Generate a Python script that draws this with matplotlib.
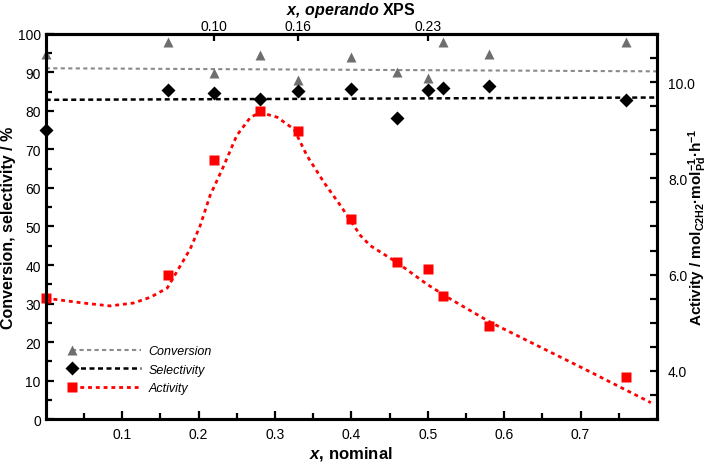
import numpy as np
import matplotlib
matplotlib.use("Agg")
import matplotlib.pyplot as plt
from matplotlib.lines import Line2D
from matplotlib.legend_handler import HandlerLine2D
from matplotlib.ticker import MultipleLocator, FixedLocator

plt.rcParams['font.family'] = ['Liberation Sans', 'DejaVu Sans']
plt.rcParams['mathtext.fontset'] = 'custom'
plt.rcParams['mathtext.rm'] = 'Liberation Sans:bold'
plt.rcParams['mathtext.it'] = 'Liberation Sans:italic'
plt.rcParams['mathtext.bf'] = 'Liberation Sans:bold'
plt.rcParams['mathtext.bfit'] = 'Liberation Sans:italic:bold'

# data
x_nominal = [0.0, 0.16, 0.22, 0.28, 0.33, 0.40, 0.46, 0.50, 0.52, 0.58, 0.76]
conversion = [94.8, 97.8, 89.8, 94.5, 88.0, 94.1, 90.0, 88.6, 98.0, 94.8, 97.8]
selectivity = [75.1, 85.5, 84.6, 83.1, 85.1, 85.7, 78.2, 85.5, 86.0, 86.6, 82.9]
activity = [5.51, 6.00, 8.39, 9.39, 8.98, 7.16, 6.27, 6.11, 5.55, 4.94, 3.88]

# fitted trend lines
fit_x = [0.0, 0.8]
conversion_fit = [91.1, 90.3]
selectivity_fit = [82.9, 83.5]
activity_fit_x = [0.0, 0.010, 0.049, 0.084, 0.115, 0.137, 0.159, 0.189, 0.202, 0.215,
                  0.233, 0.250, 0.268, 0.281, 0.303, 0.325, 0.342, 0.364, 0.386, 0.412,
                  0.425, 0.460, 0.499, 0.530, 0.582, 0.644, 0.705, 0.792]
activity_fit = [5.51, 5.49, 5.41, 5.35, 5.41, 5.53, 5.72, 6.53, 7.01, 7.64,
                8.26, 8.89, 9.27, 9.37, 9.27, 9.02, 8.47, 7.92, 7.43, 6.81,
                6.60, 6.25, 5.80, 5.49, 5.01, 4.52, 4.04, 3.34]

# top axis: operando XPS composition
top_pos = [0.22, 0.33, 0.50]
top_labels = ['0.10', '0.16', '0.23']

gray = '#6e6e6e'
red = '#ff0000'


class MarkerLeft(HandlerLine2D):
    # legend handle with the marker at the left end of the line
    def create_artists(self, legend, orig_handle, xdescent, ydescent, width, height, fontsize, trans):
        artists = super().create_artists(legend, orig_handle, xdescent, ydescent, width, height, fontsize, trans)
        line = artists[0]
        x0, x1 = line.get_xdata()[0], line.get_xdata()[-1]
        y0 = line.get_ydata()[0]
        line.set_data([x0, x1], [y0, y0])
        line.set_markevery([0])
        return artists


fig = plt.figure(figsize=(7.11, 4.64), dpi=100)
ax = fig.add_axes([0.0643, 0.0948, 0.8597, 0.8298])
ax2 = ax.twinx()

ax.plot(fit_x, conversion_fit, color='#8a8a8a', lw=1.5, dashes=(2, 1.6), zorder=2)
ax.plot(fit_x, selectivity_fit, color='black', lw=1.8, dashes=(2, 1.4), zorder=2)
ax.plot(x_nominal, conversion, '^', color=gray, ms=7.5, mec='none', zorder=3, clip_on=False)
ax.plot(x_nominal, selectivity, 'D', color='black', ms=7, mec='none', zorder=3, clip_on=False)

ax2.plot(activity_fit_x, activity_fit, color=red, lw=2, dashes=(1.4, 1.4))
ax2.plot(x_nominal, activity, 's', color=red, ms=7, mec='none', clip_on=False)

ax.set_xlim(0, 0.8)
ax.set_ylim(0, 100)
ax2.set_ylim(3, 11)

ax.xaxis.set_major_locator(FixedLocator([0.1, 0.2, 0.3, 0.4, 0.5, 0.6, 0.7]))
ax.xaxis.set_minor_locator(FixedLocator([0.05, 0.15, 0.25, 0.35, 0.45, 0.55, 0.65, 0.75]))
ax.yaxis.set_major_locator(MultipleLocator(10))
ax.yaxis.set_minor_locator(MultipleLocator(5))
ax2.yaxis.set_major_locator(FixedLocator([4, 6, 8, 10]))
ax2.yaxis.set_minor_locator(MultipleLocator(0.5))
ax2.set_yticklabels(['4.0', '6.0', '8.0', '10.0'])

ax.tick_params(which='both', direction='in', width=1.6, labelsize=10, top=False)
ax.tick_params(which='major', length=5.5)
ax.tick_params(which='minor', length=4.5)
ax.tick_params(axis='x', pad=6)
ax2.tick_params(which='both', direction='in', width=1.6, labelsize=10, length=5)
ax2.tick_params(axis='y', pad=8)

for a in (ax, ax2):
    for s in a.spines.values():
        s.set_linewidth(2.2)

top = ax.secondary_xaxis('top')
top.set_xticks(top_pos)
top.set_xticklabels(top_labels)
top.tick_params(direction='in', width=1.6, length=5, labelsize=10, pad=1)
top.spines['top'].set_linewidth(2.2)
ax.text(0.5, 1.052, r'$\mathbfit{x,\,operando}$ XPS', transform=ax.transAxes,
        ha='center', va='baseline', fontsize=11.5, fontweight='bold')

ax.set_xlabel(r'$\mathbfit{x}$, nominal', fontsize=12, fontweight='bold', labelpad=2)
ax.set_ylabel('Conversion, selectivity / %', fontsize=11.5, fontweight='bold')
ax.yaxis.set_label_coords(-0.048, 0.5)
ax2.set_ylabel(r'Activity / mol$_{\mathbf{C2H2}}$·mol$_{\mathbf{Pd}}^{\mathbf{-1}}$·h$^{\mathbf{-1}}$',
               fontsize=11, fontweight='bold')
ax2.yaxis.set_label_coords(1.048, 0.5)

handles = [
    Line2D([], [], color='#8a8a8a', lw=1.5, dashes=(2, 1.6), marker='^', ms=7.5, mfc=gray, mec='none'),
    Line2D([], [], color='black', lw=1.8, dashes=(2, 1.4), marker='D', ms=7, mfc='black', mec='none'),
    Line2D([], [], color=red, lw=2, dashes=(1.4, 1.4), marker='s', ms=7, mfc=red, mec='none'),
]
ax.legend(handles, ['Conversion', 'Selectivity', 'Activity'],
          handler_map={Line2D: MarkerLeft()}, loc='lower left',
          bbox_to_anchor=(0.043, 0.065), frameon=False, borderpad=0, borderaxespad=0,
          handlelength=5.5, handletextpad=0.6, labelspacing=0.5, prop={'size': 9, 'style': 'italic'})

fig.savefig('out.png', dpi=100)
